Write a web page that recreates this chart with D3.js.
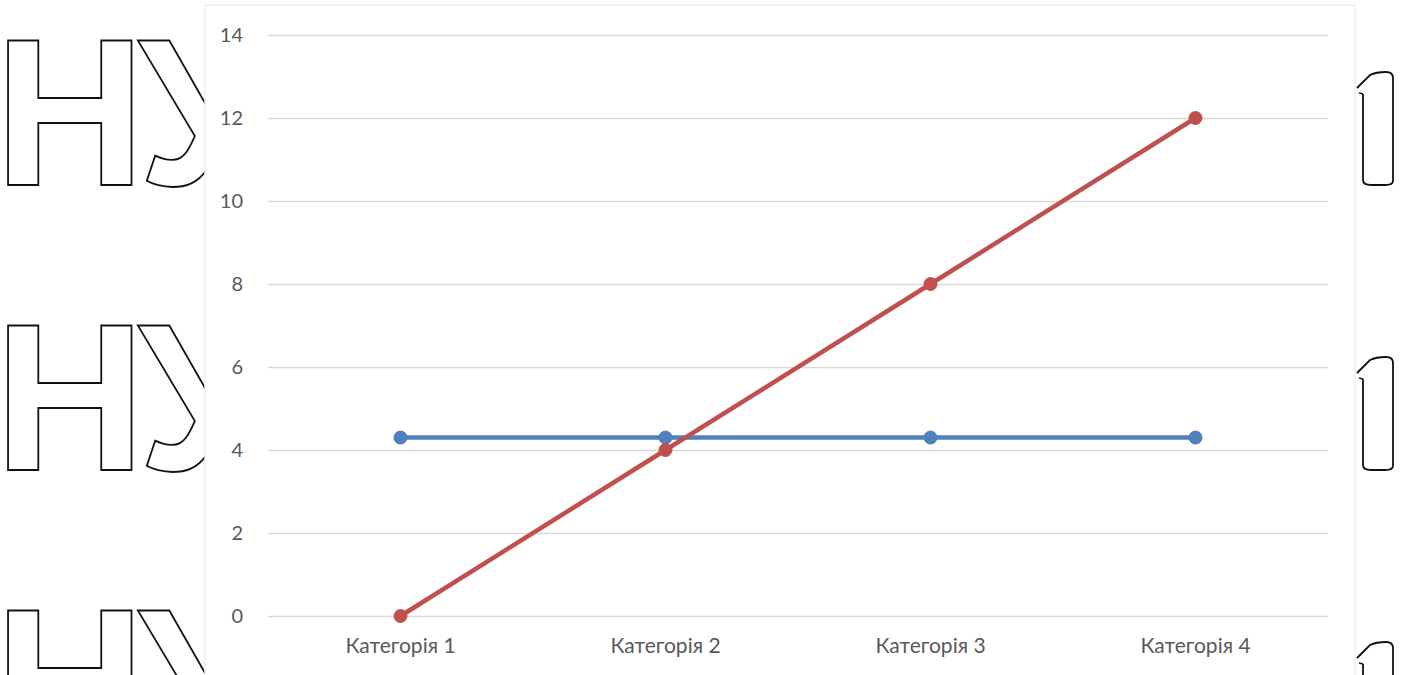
<!DOCTYPE html>
<html>
<head>
<meta charset="utf-8">
<script src="https://cdn.jsdelivr.net/npm/d3@7"></script>
<style>
html,body{margin:0;padding:0;background:#fff;}
svg{display:block;}
</style>
</head>
<body>
<svg id="chart" width="1408" height="675"></svg>
<script>
const categories = ["Категорія 1", "Категорія 2", "Категорія 3", "Категорія 4"];
const series1 = [4.3, 4.3, 4.3, 4.3];
const series2 = [0, 4, 8, 12];
const yTicks = [0, 2, 4, 6, 8, 10, 12, 14];

const svg = d3.select("#chart");

// background decorative outlined letters
const bg = svg.append("g");
const rows = [185, 470, 755];
rows.forEach(b => {
  bg.append("text").attr("x", -6).attr("y", b)
    .attr("font-family", "Liberation Sans").attr("font-weight", "bold")
    .attr("font-size", 210).attr("fill", "#fff").attr("stroke", "#111")
    .attr("stroke-width", 1.8).attr("letter-spacing", -8).text("НУ");
  const p = d3.path();
  const t = b - 113;
  p.moveTo(1357, t + 16);
  p.lineTo(1370, t + 3);
  p.quadraticCurveTo(1376, t, 1386, t);
  p.quadraticCurveTo(1393, t, 1393, t + 6);
  p.lineTo(1393, b - 4);
  p.quadraticCurveTo(1393, b, 1385, b);
  p.lineTo(1371, b);
  p.quadraticCurveTo(1363, b, 1363, b - 5);
  p.lineTo(1363, t + 22);
  bg.append("path").attr("d", p.toString()).attr("fill", "none")
    .attr("stroke", "#111").attr("stroke-width", 1.8);
  bg.append("line").attr("x1", 1359).attr("x2", 1363).attr("y1", t + 21).attr("y2", t + 22)
    .attr("stroke", "#111").attr("stroke-width", 1.8);
});

// chart area
svg.append("rect").attr("x", 205).attr("y", 5).attr("width", 1150).attr("height", 680)
  .attr("fill", "#fff").attr("stroke", "#efefef").attr("stroke-width", 1.5);

const x = d3.scaleBand().domain(categories).range([268, 1328]);
const y = d3.scaleLinear().domain([0, 14]).range([616, 35]);

const grid = svg.append("g");
grid.selectAll("line").data(yTicks).join("line")
  .attr("x1", 268).attr("x2", 1328)
  .attr("y1", d => Math.round(y(d)) + 0.5).attr("y2", d => Math.round(y(d)) + 0.5)
  .attr("stroke", "#d9d9d9").attr("stroke-width", 1.3);

const yAxis = svg.append("g").attr("transform", "translate(243,0)")
  .call(d3.axisLeft(y).tickValues(yTicks).tickSize(0).tickPadding(0).tickFormat(d3.format("d")));
yAxis.select(".domain").remove();
yAxis.selectAll("text").attr("font-family", "Lato, Open Sans, sans-serif")
  .attr("font-size", 20).attr("fill", "#595959");

const xAxis = svg.append("g").attr("transform", "translate(0,636)")
  .call(d3.axisBottom(x).tickSize(0).tickPadding(0));
xAxis.select(".domain").remove();
xAxis.selectAll("text").attr("font-family", "Lato, Open Sans, sans-serif")
  .attr("font-size", 21).attr("fill", "#595959").attr("dy", "0.8em");

const cx = c => x(c) + x.bandwidth() / 2;
const line = d3.line().x((d, i) => cx(categories[i])).y(d => y(d));

function drawSeries(vals, color, w) {
  const g = svg.append("g");
  g.append("path").datum(vals).attr("d", line).attr("fill", "none")
    .attr("stroke", color).attr("stroke-width", w).attr("stroke-linejoin", "round");
  g.selectAll("circle").data(vals).join("circle")
    .attr("cx", (d, i) => cx(categories[i])).attr("cy", d => y(d)).attr("r", 6.5)
    .attr("fill", color).attr("stroke", color).attr("stroke-width", 1);
}
drawSeries(series1, "#4f81bd", 4.5);
drawSeries(series2, "#c0504d", 4.5);
</script>
</body>
</html>
